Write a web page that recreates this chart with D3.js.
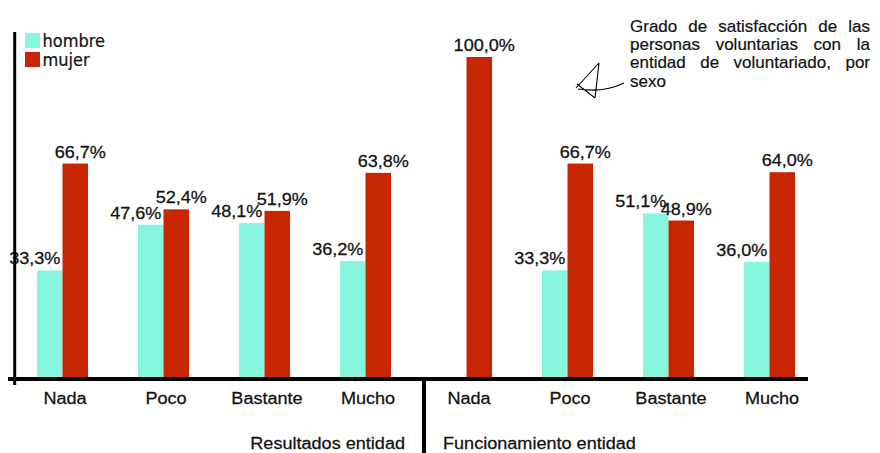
<!DOCTYPE html>
<html>
<head>
<meta charset="utf-8">
<script src="https://cdn.jsdelivr.net/npm/d3@7/dist/d3.min.js"></script>
<style>
  html, body { margin: 0; padding: 0; background: #fff; }
  svg { display: block; }
  .lbl { font-family: "Liberation Sans", Arial, sans-serif; font-size: 16px; fill: #111; stroke: #111; stroke-width: 0.25px; }
  .leg { font-family: "DejaVu Sans Condensed", "DejaVu Sans", sans-serif; font-stretch: condensed; font-size: 18px; fill: #111; stroke: #111; stroke-width: 0.2px; }
  .ttl { font-family: "Liberation Sans", Arial, sans-serif; font-size: 17px; fill: #111; stroke: #111; stroke-width: 0.2px; }
</style>
</head>
<body>
<svg id="chart" width="880" height="453"></svg>
<script>
// ---- data ----
const categories = ["Nada", "Poco", "Bastante", "Mucho", "Nada", "Poco", "Bastante", "Mucho"];
const groupNames = ["Resultados entidad", "Funcionamiento entidad"];
const groupOfCategory = [0, 0, 0, 0, 1, 1, 1, 1];
const seriesNames = ["hombre", "mujer"];
const hombre = [33.3, 47.6, 48.1, 36.2, null, 33.3, 51.1, 36.0];
const mujer  = [66.7, 52.4, 51.9, 63.8, 100.0, 66.7, 48.9, 64.0];
const titleLines = ["Grado de satisfacción de las", "personas voluntarias con la", "entidad de voluntariado, por", "sexo"];
const colors = { hombre: "#86f7de", mujer: "#c82600" };

// ---- layout ----
const svg = d3.select("#chart");
const baseY = 377;
const sx = 1.13; // horizontal stretch of the chart text

const x0 = d3.scaleBand().domain(d3.range(categories.length)).range([11.5, 819.5]);
const x1 = d3.scaleBand().domain(seriesNames).range([25.5, 76.5]);
const y = d3.scaleLinear().domain([0, 100]).range([baseY, 57]);

const fmtLocale = d3.formatLocale({ decimal: ",", thousands: ".", grouping: [3], currency: ["", "€"] });
const fmt = v => fmtLocale.format(".1f")(v) + "%";

const rows = categories.map((c, i) => ({ i, c, hombre: hombre[i], mujer: mujer[i] }));

// bars
const catG = svg.append("g").selectAll("g").data(rows).join("g")
  .attr("transform", d => `translate(${x0(d.i)},0)`);

catG.selectAll("rect")
  .data(d => seriesNames.map(s => ({ s, v: d[s] })).filter(e => e.v != null))
  .join("rect")
  .attr("x", e => x1(e.s))
  .attr("y", e => y(e.v))
  .attr("width", x1.bandwidth())
  .attr("height", e => baseY - y(e.v))
  .attr("fill", e => colors[e.s]);

// value labels
catG.selectAll("text")
  .data(d => seriesNames.map(s => ({ s, v: d[s] })).filter(e => e.v != null))
  .join("text")
  .attr("class", "lbl")
  .attr("text-anchor", "middle")
  .attr("transform", e => {
    const cx = x1(e.s) + x1.bandwidth() / 2 + (e.s === "hombre" ? -15 : 5);
    return `translate(${cx},${y(e.v) - 6}) scale(${sx},1)`;
  })
  .text(e => fmt(e.v));

// x axis
const axisY = 379;
const xAxis = d3.axisBottom(x0).tickSize(0).tickPadding(13.5).tickFormat(i => categories[i]);
const ax = svg.append("g").attr("transform", `translate(0,${axisY})`).call(xAxis);
ax.select(".domain").remove();
ax.selectAll("text")
  .attr("class", "lbl")
  .attr("font-size", null).attr("font-family", null)
  .attr("transform", `translate(3,0) scale(${sx},1)`);

svg.append("line")
  .attr("x1", 8).attr("x2", 808)
  .attr("y1", axisY).attr("y2", axisY)
  .attr("stroke", "#000").attr("stroke-width", 4);

// y axis line
svg.append("line")
  .attr("x1", 14.7).attr("x2", 14.7)
  .attr("y1", y(107.8)).attr("y2", axisY + 6)
  .attr("stroke", "#000").attr("stroke-width", 3);

// group separator + group labels
const lastOfFirst = groupOfCategory.lastIndexOf(0);
const sepX = x0(lastOfFirst) + x0.bandwidth() + 8.5;
svg.append("line")
  .attr("x1", sepX).attr("x2", sepX)
  .attr("y1", axisY).attr("y2", 453)
  .attr("stroke", "#000").attr("stroke-width", 4);

svg.append("text").attr("class", "lbl").attr("text-anchor", "end")
  .attr("transform", `translate(${sepX - 19},449) scale(${sx},1)`)
  .text(groupNames[0]);
svg.append("text").attr("class", "lbl").attr("text-anchor", "start")
  .attr("transform", `translate(${sepX + 19},449) scale(${sx},1)`)
  .text(groupNames[1]);

// legend
const leg = svg.append("g").selectAll("g").data(seriesNames).join("g")
  .attr("transform", (d, i) => `translate(25,${33 + i * 19})`);
leg.append("rect").attr("width", 15).attr("height", 15).attr("fill", d => colors[d]);
leg.append("text").attr("class", "leg").attr("x", 17.5).attr("y", (d, i) => 14 - i * 0.5).text(d => d);

// title (justified lines)
const titleX = 630, titleW = 240;
const baselines = [31.5, 49.5, 68, 86.5];
titleLines.forEach((line, i) => {
  const t = svg.append("text").attr("class", "ttl")
    .attr("x", titleX).attr("y", baselines[i]).text(line);
  if (i < titleLines.length - 1) {
    const w = t.node().getComputedTextLength();
    const spaces = (line.match(/ /g) || []).length;
    if (spaces > 0 && w < titleW) t.attr("word-spacing", (titleW - w) / spaces);
  }
});

// hand-drawn arrow mark
svg.append("path")
  .attr("d", "M599,63 L595,98 M599,63 L576,88 M577,84 L595,98 M578,89 Q603,93 624,83")
  .attr("fill", "none").attr("stroke", "#000").attr("stroke-width", 1.1);
</script>
</body>
</html>
